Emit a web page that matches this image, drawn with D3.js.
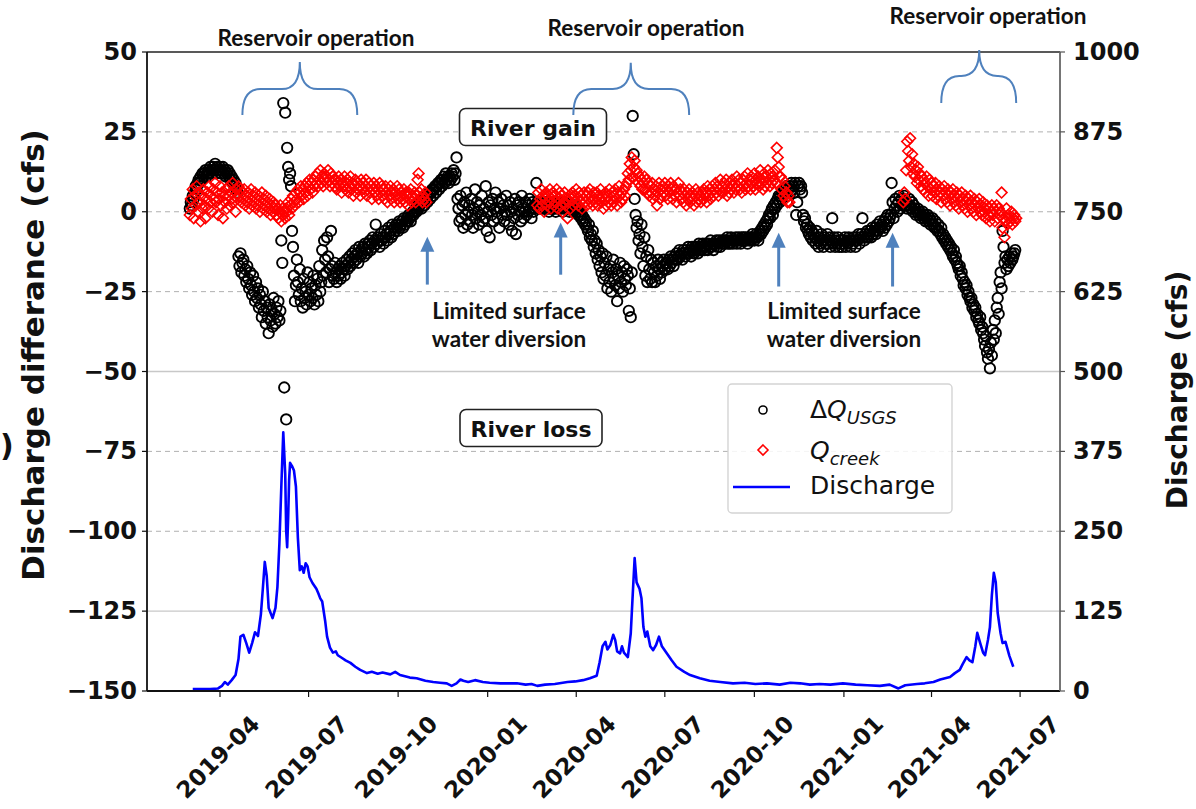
<!DOCTYPE html>
<html>
<head>
<meta charset="utf-8">
<script src="https://cdn.jsdelivr.net/npm/d3@7"></script>
<style>
  body { margin: 0; background: #fff; }
  svg { display: block; }
</style>
</head>
<body>
<svg id="chart" width="1196" height="809"></svg>
<script>
// ---- data ---------------------------------------------------------------
// Daily series are stored as a start day (offset from baseDate) plus one value per day.
const baseDate = "2019-03-01";

// River discharge (cfs, right axis): [day offset, cfs]
const discharge = [
  [3,3],[10,3],[21,3],[29,4],[33,8],[36,14],[39,10],[43,17],[47,25],[50,50],[52,85],[55,88],
  [58,75],[61,60],[64,75],[67,92],[70,86],[73,120],[75,160],[77,202],[79,180],[81,130],[85,114],
  [88,130],[90,163],[92,230],[94,320],[96,405],[98,340],[99,250],[100,225],[101,270],[102,330],
  [103,357],[105,352],[107,345],[109,320],[111,240],[113,189],[115,195],[117,185],[119,200],
  [121,195],[123,178],[126,169],[130,160],[132,153],[134,145],[136,140],[139,110],[141,85],
  [144,68],[147,60],[150,62],[152,56],[156,52],[160,48],[165,44],[170,38],[175,33],[182,28],
  [187,30],[193,27],[198,29],[206,26],[211,30],[216,25],[221,23],[226,21],[233,20],[242,16],
  [250,14],[257,13],[264,12],[269,8],[274,12],[278,18],[281,16],[286,14],[293,17],[301,14],
  [308,13],[319,12],[329,12],[336,12],[345,10],[351,11],[357,8],[365,10],[375,11],[388,14],
  [396,15],[404,17],[411,20],[418,24],[421,45],[424,70],[427,77],[429,65],[432,72],[435,88],
  [437,80],[439,62],[442,59],[444,70],[446,60],[450,53],[453,90],[455,150],[457,208],[459,170],
  [462,160],[464,145],[466,100],[468,85],[470,93],[473,70],[476,64],[479,72],[482,85],[485,70],
  [490,59],[495,48],[500,38],[508,30],[514,25],[524,20],[534,16],[545,14],[558,12],[570,13],
  [581,11],[593,12],[606,10],[617,13],[627,12],[637,10],[647,11],[658,10],[671,12],[684,10],
  [696,9],[709,8],[719,10],[728,4],[735,9],[747,11],[755,12],[764,14],[771,18],[776,20],
  [781,22],[786,28],[791,33],[794,42],[798,53],[801,48],[804,45],[807,70],[809,91],[812,75],
  [815,60],[817,56],[820,80],[822,100],[824,150],[826,185],[828,170],[830,122],[833,90],
  [835,75],[838,77],[842,55],[846,38]
];

// Discharge difference between gauges, ΔQ_USGS (cfs, left axis), daily from day 0
const dqStart = 0;
const dqUsgs = [
  1,3,2,5,4,6,8,7,9,10,
  9,11,10,12,11,12,13,11,12,13,
  12,14,13,12,14,13,15,12,14,13,
  13,14,12,13,14,12,13,11,12,13,
  11,12,10,11,9,10,8,9,7,6,
  -14,-17,-13,-19,-16,-15,-20,-18,-22,-17,
  -21,-24,-19,-23,-26,-20,-25,-28,-22,-27,
  -24,-30,-26,-29,-33,-25,-31,-28,-35,-30,
  -33,-38,-29,-34,-31,-36,-27,-32,-35,-30,
  -33,-28,-34,-31,-9,-16,
  34,-55,31,-65,20,14,10,12,8,-6,
  -11,-20,-28,-23,-15,-22,-26,-18,-28,-24,
  -30,-21,-27,-25,-29,-19,-26,-22,-28,-24,
  -27,-20,-29,-23,-26,-21,-28,-17,-25,-22,
  -12,-20,-9,-15,-19,-8,-14,-22,-18,-6,
  -17,-20,-21,-16,-19,-22,-18,-20,-17,-21,
  -19,-16,-18,-20,-17,-15,-18,-16,-14,-17,
  -15,-13,-16,-14,-12,-15,-13,-16,-11,-14,
  -12,-13,-11,-14,-10,-12,-13,-10,-11,-9,
  -12,-10,-8,-11,-9,-4,-10,-8,-9,-11,
  -7,-9,-8,-10,-6,-8,-7,-9,-5,-7,
  -6,-8,-4,-7,-5,-6,-4,-5,-6,-3,
  -5,-4,-3,-5,-2,-4,-3,-2,-3,-1,
  -2,-3,-1,0,-1,0,1,0,2,1,
  2,3,1,3,4,2,4,5,3,5,
  6,4,6,7,5,7,8,6,8,9,
  7,9,10,8,10,11,9,12,10,11,
  9,11,10,12,11,13,10,12,17,4,
  1,-3,5,-2,2,-5,3,-1,6,-4,
  0,2,-3,4,-1,-5,1,7,-2,3,
  0,-4,2,-1,5,-3,1,-2,8,-6,
  0,3,-8,2,-1,4,-3,1,6,0,
  -2,3,-5,1,4,-1,2,-3,0,5,
  -1,2,-4,3,0,-6,1,-2,4,-7,
  2,-1,3,0,-3,5,1,-2,0,3,
  -1,2,0,4,1,-2,3,0,2,1,
  9,3,1,2,
  2,1,3,2,1,2,3,1,2,0,
  1,2,3,1,2,1,0,2,1,3,
  2,1,2,0,1,3,2,1,2,1,
  0,2,1,1,0,2,1,0,1,-1,
  0,-1,-2,-1,-3,-2,
  -4,-3,-5,-6,-4,-8,-7,-9,-6,-11,
  -9,-13,-10,-15,-12,-17,-14,-19,-13,-21,
  -16,-20,-14,-24,-18,-22,-17,-25,-19,-15,
  -21,-23,-18,-28,-20,-24,-16,-22,-19,-25,
  -17,-21,-23,-18,-20,-31,-24,-33,-19,30,
  18,4,-1,-5,-3,-9,-7,-13,-4,-11,
  -17,-8,-20,-14,-22,-12,-18,-21,-15,-22,
  -16,-19,-22,-17,-20,-15,-18,-21,-16,-19,
  -17,-15,-18,-16,
  -16,-18,-15,-17,-14,-16,-15,-17,-14,-15,
  -13,-15,-14,-12,-14,-13,-15,-12,-13,-14,
  -12,-13,-11,-13,-12,-14,-11,-12,-13,-11,
  -12,-11,-13,-10,-12,-11,-12,-10,-11,-12,
  -10,-11,-12,-10,-11,-9,-11,-10,-12,-10,
  -10,-9,-11,-10,-9,-11,-10,-9,-10,-9,
  -10,-9,-8,-10,-9,-10,-8,-9,-10,-9,
  -9,-8,-10,-9,-8,-9,-10,-8,-9,-8,
  -9,-8,-9,-10,-8,-9,-8,-9,-7,-8,
  -9,-8,-7,-8,-9,-7,
  -6,-7,-5,-6,-4,-5,-3,-4,-2,-1,
  -2,0,1,-1,2,1,3,2,4,5,
  3,5,4,6,5,7,6,8,5,7,
  8,6,9,7,8,6,9,-1,3,8,
  9,7,8,6,
  -1,-3,-2,-5,-4,-6,-7,-5,-8,-6,
  -9,-7,-8,-10,-6,-9,-11,-8,-10,-7,
  -9,-11,-8,-10,-9,-7,-10,-8,-11,-9,
  -2,-10,-8,-11,-9,-10,-8,-11,-9,-10,
  -11,-9,-10,-8,-11,-9,-10,-8,-9,-11,
  -9,-10,-8,-9,-11,-8,-9,-7,-10,-8,
  -7,-2,-8,-9,-7,-8,-6,-8,-7,-6,
  -8,-5,-7,-6,-5,-7,-4,-6,-5,-3,
  -5,-4,-6,-3,-5,-2,-4,-1,-3,-2,
  -1,9,3,-2,1,4,2,0,3,5,
  1,4,2,3,5,2,3,1,2,4,
  2,1,3,0,2,1,-1,0,1,-1,
  0,-2,-1,0,-2,-1,-3,-2,-1,-3,
  -2,-4,-3,-2,-4,-5,-3,-5,-6,-4,
  -6,-7,-5,-8,-7,-9,-8,-10,-9,-11,
  -10,-12,-11,-13,-14,-12,-15,-14,-16,-17,
  -18,-17,-20,-19,-21,-23,-22,-24,-23,-26,
  -25,-27,-28,-27,-30,-29,-31,-30,-33,-32,
  -34,-35,-33,-37,-36,-38,-40,-42,-39,-44,
  -46,-43,-49,-41,-45,-37,-40,-34,-38,-30,
  -27,-32,-22,-19,-24,-6,-11,-16,-14,-18,
  -15,-17,-14,-16,-13,-15,-14,-13,-12
];

// Creek inflow, Q_creek (cfs, left axis), daily values in three recorded periods
const creek2019Start = 0;
const creek2019 = [
  -1,4,1,7,-2,5,2,8,0,6,
  3,-3,5,1,7,2,-2,4,6,1,
  8,3,5,0,7,4,9,3,6,-1,
  4,8,2,6,-2,5,3,7,1,5,
  8,2,6,4,9,3,5,0,7,4,
  8,5,7,3,6,4,7,2,5,3,
  6,1,4,7,2,5,3,6,1,4,
  2,5,0,3,6,1,4,2,5,0,
  3,1,4,-1,2,0,3,1,2,-1,
  1,-2,0,2,-3,1,-1,0,-2,1,
  0,3,-1,2,4,1,5,3,2,6,
  4,7,3,6,8,5,7,4,8,6,
  9,5,8,10,7,9,6,10,8,11,
  9,12,8,10,13,9,11,8,12,10,
  11,9,13,10,8,12,9,11,10,8,
  10,7,9,11,8,10,6,9,8,11,
  7,9,10,6,8,11,7,9,5,8,
  10,6,9,7,8,5,10,7,9,6,
  8,10,5,7,9,6,8,4,7,9,
  6,8,5,7,4,9,6,8,5,7,
  4,8,6,3,7,5,8,4,6,7,
  3,6,5,8,4,7,3,6,5,4,
  7,3,6,5,2,6,4,7,3,5,
  4,6,3,5,10,12,6,4,7,3,
  5,4,6,3
];
const creek2020Start = 357;
const creek2020 = [
  2,6,1,4,7,2,5,0,4,6,
  2,5,3,7,1,4,6,2,5,3,
  7,1,4,6,2,5,0,3,6,2,
  4,-2,3,5,1,4,6,2,5,3,
  7,4,2,6,3,5,1,4,6,3,
  5,2,6,4,7,3,5,2,6,4,
  3,6,2,5,4,7,3,5,1,4,
  6,2,5,3,7,4,2,6,3,5,
  7,4,2,6,8,5,3,6,4,7,
  5,8,9,12,10,15,13,17,11,14,
  16,10,13,12,9,11,8,10,7,9,
  11,7,10,6,9,5,8,6,9,4,
  7,5,8,2,6,9,4,7,5,8,
  6,9,5,7,4,8,6,9,7,4,
  8,5,7,3,6,9,5,7,4,6,
  3,7,5,2,6,4,7,3,5,6,
  4,2,5,7,3,6,4,5,3,6,
  4,7,5,6,3,8,5,7,4,6,
  8,5,7,9,6,8,5,7,10,6,
  8,6,9,7,10,5,8,6,9,7,
  10,8,6,9,7,11,8,10,7,9,
  6,10,8,11,7,9,12,8,10,7,
  11,9,8,12,7,10,9,11,8,13,
  9,10,7,12,8,11,9,13,10,8,
  12,9,11,10,13,9,20,17,14,11,
  11,7,10,5,8,4,6,3,5,3
];
const creek2021Start = 733;
const creek2021 = [
  3,6,4,13,22,19,16,23,14,18,
  12,15,11,13,9,14,10,12,8,11,
  7,10,9,6,11,8,5,10,7,9,
  5,8,6,9,4,7,5,8,6,3,
  7,5,8,4,6,3,7,5,2,6,
  4,7,3,5,2,6,4,1,5,3,
  6,2,4,1,5,3,0,4,2,5,
  1,3,0,4,2,-1,3,1,4,0,
  2,-1,3,0,1,-2,2,-1,1,-3,
  0,2,-1,1,-3,0,2,-2,1,-1,
  0,6,-5,-2,-8,-3,1,-4,-1,-2,
  -3,0,-4,-2,-1,-3,-2
];

const leftTicks = [50, 25, 0, -25, -50, -75, -100, -125, -150];
const rightTicks = [1000, 875, 750, 625, 500, 375, 250, 125, 0];
const monthTicks = ["2019-04-01","2019-07-01","2019-10-01","2020-01-01","2020-04-01",
                    "2020-07-01","2020-10-01","2021-01-01","2021-04-01","2021-07-01"];

// Annotation anchors: [start, tip, end] dates of each reservoir-operation period
const reservoirPeriods = [
  ["2019-04-24","2019-06-22","2019-08-20"],
  ["2020-03-29","2020-05-27","2020-07-26"],
  ["2021-04-11","2021-05-20","2021-06-27"]
];
// Dates of limited surface water diversion
const diversionDates = ["2019-10-31","2020-03-16","2020-10-26","2021-02-20"];

// ---- layout -------------------------------------------------------------
const W = 1196, H = 809;
const plot = { left: 147, right: 1060, top: 52, bottom: 691 };
const parse = d3.timeParse("%Y-%m-%d");
const base = parse(baseDate);
const toDate = d => d3.timeDay.offset(base, d);
const daily = (start, vals) => vals.map((v, i) => [start + i, v]);

const dqPoints = daily(dqStart, dqUsgs);
const creekPoints = [].concat(
  daily(creek2019Start, creek2019),
  daily(creek2020Start, creek2020),
  daily(creek2021Start, creek2021)
);

const x = d3.scaleTime()
  .domain([parse("2019-01-16"), parse("2021-08-11")])
  .range([plot.left, plot.right]);
const yL = d3.scaleLinear().domain([-150, 50]).range([plot.bottom, plot.top]);
const yR = d3.scaleLinear().domain([0, 1000]).range([plot.bottom, plot.top]);

const svg = d3.select("#chart");
const FONT = "'DejaVu Sans', sans-serif";
const ANN_FONT = "Lato, 'Open Sans', sans-serif";
const BLUE_ANN = "#4f81bd";

svg.append("rect").attr("width", W).attr("height", H).attr("fill", "#fff");

svg.append("defs").append("clipPath").attr("id", "plotclip")
  .append("rect")
  .attr("x", plot.left).attr("y", plot.top - 8)
  .attr("width", plot.right - plot.left).attr("height", plot.bottom - plot.top + 8);

// gridlines
const grid = svg.append("g");
leftTicks.forEach(v => {
  if (v === 50 || v === -150) return;
  const solid = (v === -50 || v === -125);
  grid.append("line")
    .attr("x1", plot.left).attr("x2", plot.right)
    .attr("y1", yL(v)).attr("y2", yL(v))
    .attr("stroke", solid ? "#c8c8c8" : "#b0b0b0")
    .attr("stroke-width", solid ? 1.4 : 1)
    .attr("stroke-dasharray", solid ? null : "5,4");
});

// scatter series
const marks = svg.append("g").attr("clip-path", "url(#plotclip)");
marks.append("g").selectAll("circle").data(dqPoints).join("circle")
  .attr("cx", d => x(toDate(d[0])))
  .attr("cy", d => yL(d[1]))
  .attr("r", 5.2)
  .attr("fill", "none")
  .attr("stroke", "#000")
  .attr("stroke-width", 1.9);

const diamond = r => `M0,${-r}L${r},0L0,${r}L${-r},0Z`;
marks.append("g").selectAll("path").data(creekPoints).join("path")
  .attr("d", diamond(5.4))
  .attr("transform", d => `translate(${x(toDate(d[0]))},${yL(d[1])})`)
  .attr("fill", "none")
  .attr("stroke", "#ff0000")
  .attr("stroke-width", 1.6);

// discharge line
const line = d3.line()
  .x(d => x(toDate(d[0])))
  .y(d => yR(d[1]));
marks.append("path").datum(discharge)
  .attr("d", line)
  .attr("fill", "none")
  .attr("stroke", "#0000ff")
  .attr("stroke-width", 2.6)
  .attr("stroke-linejoin", "round");

// frame
svg.append("line").attr("x1", plot.left).attr("x2", plot.right)
  .attr("y1", plot.top).attr("y2", plot.top).attr("stroke", "#222").attr("stroke-width", 1.6);
svg.append("line").attr("x1", plot.left).attr("x2", plot.right)
  .attr("y1", plot.bottom).attr("y2", plot.bottom).attr("stroke", "#111").attr("stroke-width", 1.8);
svg.append("line").attr("x1", plot.left).attr("x2", plot.left)
  .attr("y1", plot.top).attr("y2", plot.bottom).attr("stroke", "#111").attr("stroke-width", 1.8);
svg.append("line").attr("x1", plot.right).attr("x2", plot.right)
  .attr("y1", plot.top).attr("y2", plot.bottom).attr("stroke", "#666").attr("stroke-width", 1.8);

// left axis
const fmt = v => v < 0 ? "\u2212" + Math.abs(v) : String(v);
const la = svg.append("g");
leftTicks.forEach(v => {
  la.append("line").attr("x1", plot.left - 5).attr("x2", plot.left)
    .attr("y1", yL(v)).attr("y2", yL(v)).attr("stroke", "#111").attr("stroke-width", 1.2);
  la.append("text").attr("x", plot.left - 10).attr("y", yL(v))
    .attr("text-anchor", "end").attr("dominant-baseline", "central")
    .attr("font-family", FONT).attr("font-weight", "bold").attr("font-size", 24)
    .attr("fill", "#111").text(fmt(v));
});
// right axis
const ra = svg.append("g");
rightTicks.forEach(v => {
  ra.append("line").attr("x1", plot.right).attr("x2", plot.right + 5)
    .attr("y1", yR(v)).attr("y2", yR(v)).attr("stroke", "#555").attr("stroke-width", 1.2);
  ra.append("text").attr("x", plot.right + 13).attr("y", yR(v))
    .attr("text-anchor", "start").attr("dominant-baseline", "central")
    .attr("font-family", FONT).attr("font-weight", "bold").attr("font-size", 24)
    .attr("fill", "#111").text(v);
});
// bottom axis
const ba = svg.append("g");
monthTicks.forEach(s => {
  const xp = x(parse(s));
  ba.append("line").attr("x1", xp).attr("x2", xp)
    .attr("y1", plot.bottom).attr("y2", plot.bottom + 6).attr("stroke", "#111").attr("stroke-width", 1.2);
  ba.append("text")
    .attr("transform", `translate(${xp - 2},${plot.bottom + 66}) rotate(-45)`)
    .attr("text-anchor", "middle").attr("dominant-baseline", "central")
    .attr("font-family", FONT).attr("font-weight", "bold").attr("font-size", 23)
    .attr("fill", "#111").text(s.slice(0, 7));
});

// axis titles
svg.append("text").attr("transform", "translate(33,355) rotate(-90)")
  .attr("text-anchor", "middle").attr("dominant-baseline", "central")
  .attr("font-family", FONT).attr("font-weight", "bold").attr("font-size", 31)
  .attr("fill", "#111").text("Discharge differance (cfs)");
svg.append("text").attr("transform", "translate(1177,390) rotate(-90)")
  .attr("text-anchor", "middle").attr("dominant-baseline", "central")
  .attr("font-family", FONT).attr("font-weight", "bold").attr("font-size", 28)
  .attr("fill", "#111").text("Discharge (cfs)");
svg.append("text").attr("x", 0).attr("y", 456)
  .attr("font-family", FONT).attr("font-weight", "bold").attr("font-size", 30)
  .attr("fill", "#111").text(")");

// River gain / loss boxes
function labelBox(cx, cy, w, h, txt) {
  const g = svg.append("g");
  g.append("rect").attr("x", cx - w / 2).attr("y", cy - h / 2)
    .attr("width", w).attr("height", h).attr("rx", 6)
    .attr("fill", "#fff").attr("stroke", "#222").attr("stroke-width", 1.6);
  g.append("text").attr("x", cx).attr("y", cy + 1)
    .attr("text-anchor", "middle").attr("dominant-baseline", "central")
    .attr("font-family", FONT).attr("font-weight", "bold").attr("font-size", 22)
    .attr("fill", "#111").text(txt);
}
labelBox(533, 127, 147, 37, "River gain");
labelBox(531, 428, 142, 37, "River loss");

// legend
const lg = svg.append("g");
lg.append("rect").attr("x", 728).attr("y", 384).attr("width", 224).attr("height", 129)
  .attr("rx", 4).attr("fill", "#fff").attr("fill-opacity", 0.85)
  .attr("stroke", "#d4d4d4").attr("stroke-width", 1.4);
lg.append("circle").attr("cx", 763).attr("cy", 410).attr("r", 4)
  .attr("fill", "none").attr("stroke", "#000").attr("stroke-width", 1.6);
lg.append("path").attr("d", diamond(5)).attr("transform", "translate(763,450)")
  .attr("fill", "none").attr("stroke", "#ff0000").attr("stroke-width", 1.6);
lg.append("line").attr("x1", 733).attr("x2", 790).attr("y1", 487).attr("y2", 487)
  .attr("stroke", "#0000ff").attr("stroke-width", 2.6);
const t1 = lg.append("text").attr("x", 810).attr("y", 418)
  .attr("font-family", FONT).attr("font-size", 25).attr("fill", "#111");
t1.append("tspan").text("\u0394");
t1.append("tspan").attr("font-style", "italic").text("Q");
t1.append("tspan").attr("font-style", "italic").attr("font-size", 18).attr("dy", 6).text("USGS");
const t2 = lg.append("text").attr("x", 810).attr("y", 459)
  .attr("font-family", FONT).attr("font-size", 25).attr("fill", "#111");
t2.append("tspan").attr("font-style", "italic").text("Q");
t2.append("tspan").attr("font-style", "italic").attr("font-size", 18).attr("dy", 6).text("creek");
lg.append("text").attr("x", 810).attr("y", 494)
  .attr("font-family", FONT).attr("font-size", 25).attr("fill", "#111").text("Discharge");

// reservoir operation braces
const annG = svg.append("g");
const braceY = [[30.3, 38.4, 46.9], [30.3, 38.4, 46.6], [34, 42.5, 50.6]];
reservoirPeriods.forEach((p, i) => {
  const [x0, xm, x1] = p.map(s => x(parse(s)));
  const [yEnd, yMid, yTip] = braceY[i].map(yL);
  const r = 18;
  const path = `M${x0},${yEnd} Q${x0},${yMid} ${x0 + r},${yMid} L${xm - r},${yMid} ` +
    `Q${xm},${yMid} ${xm},${yTip} Q${xm},${yMid} ${xm + r},${yMid} L${x1 - r},${yMid} ` +
    `Q${x1},${yMid} ${x1},${yEnd}`;
  annG.append("path").attr("d", path).attr("fill", "none")
    .attr("stroke", BLUE_ANN).attr("stroke-width", 2);
});
const resLabelPos = [[316, 46], [646, 36], [988, 24]];
resLabelPos.forEach(([lx, ly]) => {
  annG.append("text").attr("x", lx).attr("y", ly).attr("text-anchor", "middle")
    .attr("font-family", ANN_FONT).attr("font-weight", "bold").attr("font-size", 22.5)
    .attr("fill", "#111").text("Reservoir operation");
});

// diversion arrows
const arrowY = [[-22.8, -7.8], [-19.7, -3.4], [-23.4, -6.6], [-23.4, -6.6]];
diversionDates.forEach((s, i) => {
  const xp = x(parse(s));
  const yb = yL(arrowY[i][0]), yt = yL(arrowY[i][1]);
  annG.append("line").attr("x1", xp).attr("x2", xp).attr("y1", yb).attr("y2", yt + 12)
    .attr("stroke", BLUE_ANN).attr("stroke-width", 3);
  annG.append("path")
    .attr("d", `M${xp},${yt} L${xp + 7},${yt + 15} L${xp - 7},${yt + 15} Z`)
    .attr("fill", BLUE_ANN);
});
const divLabelPos = [[509, 319], [844, 319]];
divLabelPos.forEach(([lx, ly]) => {
  const t = annG.append("text").attr("text-anchor", "middle")
    .attr("font-family", ANN_FONT).attr("font-weight", "bold").attr("font-size", 22.5)
    .attr("fill", "#111");
  t.append("tspan").attr("x", lx).attr("y", ly).text("Limited surface");
  t.append("tspan").attr("x", lx).attr("y", ly + 28).text("water diversion");
});
</script>
</body>
</html>
